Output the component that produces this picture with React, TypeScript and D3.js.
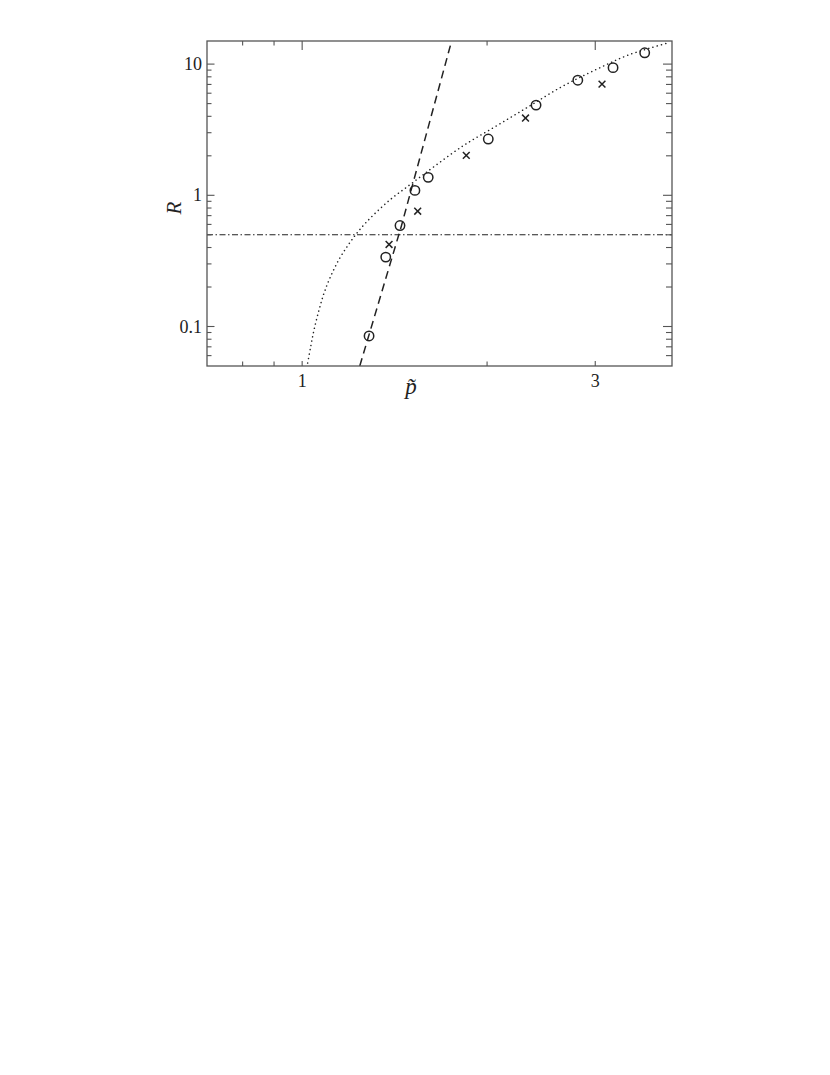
import React from "react";
import * as d3 from "d3";

// ---- data ----
const circleP = [1.285, 1.368, 1.443, 1.526, 1.604, 2.009, 2.403, 2.81, 3.207, 3.611];
const circleR = [0.0847, 0.338, 0.588, 1.09, 1.37, 2.685, 4.87, 7.54, 9.4, 12.2];

const crossP = [1.385, 1.542, 1.85, 2.31, 3.077];
const crossR = [0.422, 0.756, 2.014, 3.88, 7.03];

const dashedP = [1.241, 1.45, 1.751];
const dashedR = [0.05, 0.58, 15];

const dottedP = [1.018, 1.033, 1.046, 1.066, 1.086, 1.113, 1.148, 1.185, 1.223, 1.269, 1.334, 1.402, 1.474, 1.549, 1.628, 1.822, 2.064, 2.339, 2.649, 3.002, 3.401, 3.951];
const dottedR = [0.049, 0.0711, 0.0952, 0.1351, 0.181, 0.242, 0.324, 0.41, 0.503, 0.617, 0.778, 0.955, 1.138, 1.356, 1.615, 2.359, 3.347, 4.75, 6.74, 9.03, 11.75, 14.57];

const thresholdR = 0.5;

const xDomain = [0.7, 4];
const yDomain = [0.05, 15];
const xMajorTicks = [1, 3];
const xMinorTicks = [0.8, 0.9, 2];
const yMajorTicks = [0.1, 1, 10];
const yMajorLabels = ["0.1", "1", "10"];
const yMinorTicks = [0.06, 0.07, 0.08, 0.09, 0.2, 0.3, 0.4, 0.5, 0.6, 0.7, 0.8, 0.9, 2, 3, 4, 5, 6, 7, 8, 9];

export default function App() {
  const L = 207, R = 672, T = 41, B = 366;
  const x = d3.scaleLog().domain(xDomain).range([L, R]);
  const y = d3.scaleLog().domain(yDomain).range([B, T]);
  const ink = "#222";
  const frame = "#555";

  const line = d3
    .line<[number, number]>()
    .x((d) => x(d[0]))
    .y((d) => y(d[1]));
  const smooth = d3
    .line<[number, number]>()
    .x((d) => x(d[0]))
    .y((d) => y(d[1]))
    .curve(d3.curveCatmullRom);

  const dashedPts = dashedP.map((p, i) => [p, dashedR[i]] as [number, number]);
  const dottedPts = dottedP.map((p, i) => [p, dottedR[i]] as [number, number]);

  const font = "'Liberation Serif', 'Times New Roman', serif";

  return (
    <svg
      width={830}
      height={1075}
      style={{ position: "absolute", left: 0, top: 0, background: "#fff" }}
    >
      <defs>
        <clipPath id="plot">
          <rect x={L} y={T} width={R - L} height={B - T} />
        </clipPath>
      </defs>
      <rect x={0} y={0} width={830} height={1075} fill="#fff" />

      <g clipPath="url(#plot)" fill="none">
        <line
          x1={L}
          x2={R}
          y1={y(thresholdR)}
          y2={y(thresholdR)}
          stroke={ink}
          strokeWidth={1.1}
          strokeDasharray="6,2.5,1.5,2.5"
        />
        <path d={smooth(dottedPts) || ""} stroke={ink} strokeWidth={1.5} strokeDasharray="0.1,4.3" strokeLinecap="round" />
        <path d={line(dashedPts) || ""} stroke={ink} strokeWidth={1.5} strokeDasharray="8,5" />
      </g>

      {circleP.map((p, i) => (
        <circle key={"c" + i} cx={x(p)} cy={y(circleR[i])} r={4.7} fill="none" stroke={ink} strokeWidth={1.5} />
      ))}
      {crossP.map((p, i) => {
        const cx = x(p), cy = y(crossR[i]), s = 3.4;
        return (
          <g key={"x" + i} stroke={ink} strokeWidth={1.5}>
            <line x1={cx - s} y1={cy - s} x2={cx + s} y2={cy + s} />
            <line x1={cx - s} y1={cy + s} x2={cx + s} y2={cy - s} />
          </g>
        );
      })}

      {/* frame */}
      <rect x={L} y={T} width={R - L} height={B - T} fill="none" stroke={frame} strokeWidth={1.3} />

      {/* ticks */}
      <g stroke={frame} strokeWidth={1.1}>
        {xMajorTicks.map((t) => (
          <g key={"xm" + t}>
            <line x1={x(t)} x2={x(t)} y1={B} y2={B - 5} />
            <line x1={x(t)} x2={x(t)} y1={T} y2={T + 9} />
          </g>
        ))}
        {xMinorTicks.map((t) => (
          <g key={"xn" + t}>
            <line x1={x(t)} x2={x(t)} y1={B} y2={B - 4.5} />
            <line x1={x(t)} x2={x(t)} y1={T} y2={T + 4.5} />
          </g>
        ))}
        {yMajorTicks.map((t) => (
          <g key={"ym" + t}>
            <line x1={L} x2={L + 7.5} y1={y(t)} y2={y(t)} />
            <line x1={R} x2={R - 9} y1={y(t)} y2={y(t)} />
          </g>
        ))}
        {yMinorTicks.map((t) => (
          <g key={"yn" + t}>
            <line x1={L} x2={L + 4.5} y1={y(t)} y2={y(t)} />
            <line x1={R} x2={R - 6} y1={y(t)} y2={y(t)} />
          </g>
        ))}
      </g>

      {/* tick labels */}
      <g fontFamily={font} fontSize={18} fill="#222">
        {yMajorTicks.map((t, i) => (
          <text key={"yl" + t} x={L - 5} y={y(t) + 6} textAnchor="end">
            {yMajorLabels[i]}
          </text>
        ))}
        {xMajorTicks.map((t) => (
          <text key={"xl" + t} x={x(t)} y={B + 21} textAnchor="middle">
            {String(t)}
          </text>
        ))}
      </g>

      {/* axis titles */}
      <text
        fontFamily={font}
        fontStyle="italic"
        fontSize={21}
        fill="#222"
        transform={`translate(181,208) rotate(-90)`}
        textAnchor="middle"
      >
        R
      </text>
      <text fontFamily={font} fontStyle="italic" fontSize={23} fill="#222" x={411} y={394} textAnchor="middle">
        {"p\u0303"}
      </text>
    </svg>
  );
}
